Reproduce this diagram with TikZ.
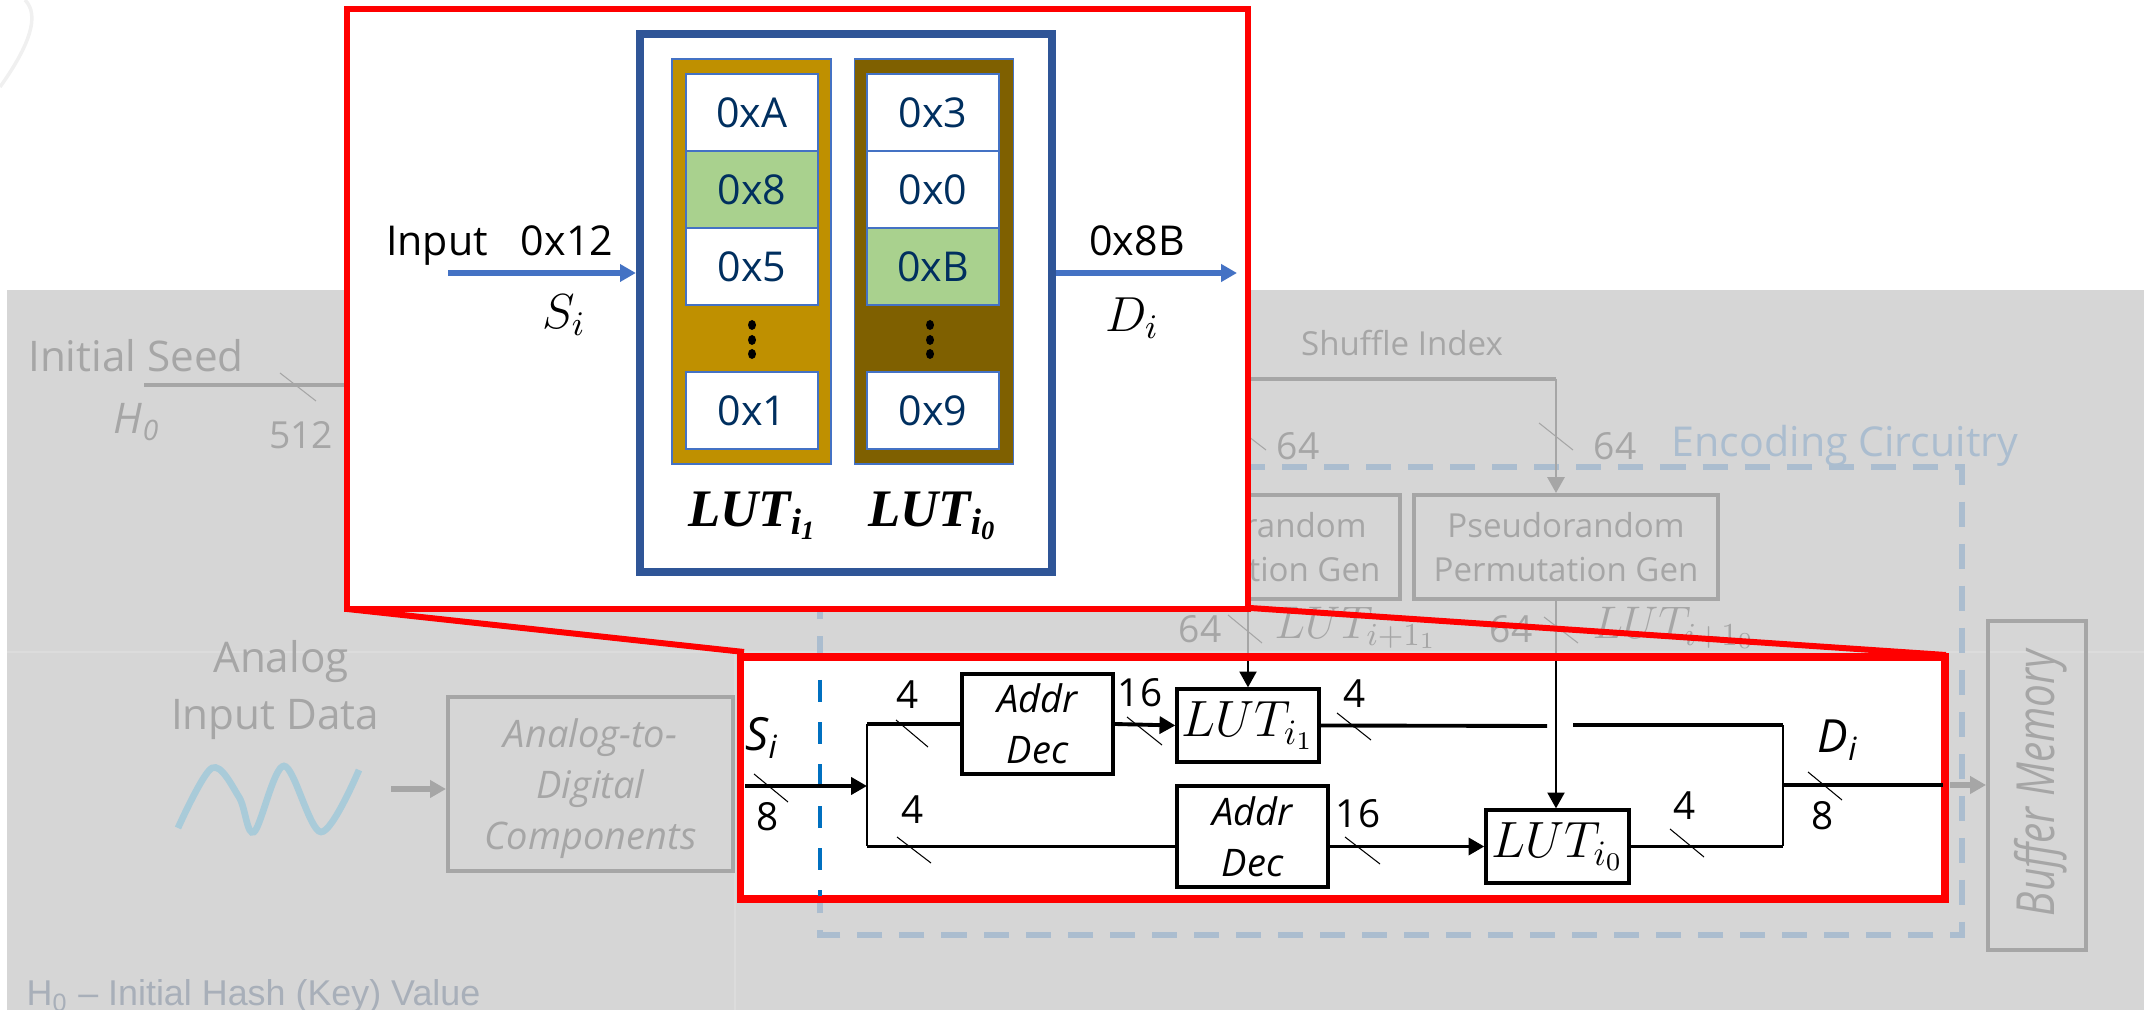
\documentclass[tikz,border=0pt]{standalone}
\usepackage{amsmath}
\usepackage{fix-cm}
\usepackage{fontspec}
\setmainfont{Open Sans}
\newfontfamily\arialfont{Liberation Sans}
\newfontfamily\lutserif{Liberation Serif}
\newcommand\lutb[1]{\text{\lutserif\bfseries\itshape #1}}
\usetikzlibrary{arrows.meta}

\definecolor{bggray}{HTML}{D6D6D6}
\definecolor{seamgray}{HTML}{DCDCDC}
\definecolor{fadegray}{HTML}{A6A6A6}
\definecolor{fadeblue}{HTML}{ABBDCF}
\definecolor{wavecol}{HTML}{A9CBD9}
\definecolor{keycol}{HTML}{A8AFB9}
\definecolor{zoomred}{HTML}{FF0000}
\definecolor{navy}{HTML}{2F5597}
\definecolor{flowblue}{HTML}{4472C4}
\definecolor{cutblue}{HTML}{0070C0}
\definecolor{cellink}{HTML}{002F5F}
\definecolor{gold}{HTML}{BF9000}
\definecolor{bronze}{HTML}{7F6000}
\definecolor{hitgreen}{HTML}{A9D18E}

\tikzset{
    fs/.style={font=\fontsize{#1}{#1}\selectfont},
    label/.style={inner sep=0pt, text=black, fs=11},
    faded/.style={inner sep=0pt, text=fadegray, fs=10.6},
    fadebox/.style={draw=fadegray, line width=1.1pt, inner sep=0pt, align=center, text=fadegray},
    blockbox/.style={draw=black, line width=0.9pt, fill=white, inner sep=0pt, align=center},
    lutcell/.style={draw=flowblue, line width=0.6pt, fill=white, text=cellink, inner sep=0pt,
        minimum width=1.32cm, minimum height=0.77cm, fs=11.7},
    lutcol/.style={draw=flowblue, line width=0.5pt, inner sep=0pt, minimum width=1.59cm, minimum height=4.05cm},
    busmark/.style={black, line width=0.3pt},
    fademark/.style={fadegray, line width=0.3pt},
    wire/.style={black, line width=1.1pt},
    fadewire/.style={fadegray, line width=0.8pt},
    zoomline/.style={zoomred, line width=1.7pt}
}

\begin{document}
\begin{tikzpicture}[x=0.01cm, y=-0.01cm, >={Stealth[inset=0pt,length=4.5pt,width=4.8pt]}]
    \useasboundingbox (0,0) rectangle (2144,1010);

    % gray background
    \fill[bggray] (7,290) rectangle (2144,1010);
    \draw[seamgray, line width=0.3pt] (7,652) -- (2144,652);
    \draw[seamgray, line width=0.3pt] (735,652) -- (735,1010);
    \draw[white!94!black, line width=1pt] (25,0) .. controls (40,15) and (30,45) .. (0,87);

    % initial seed
    \node[faded, anchor=base, fs=12] (seedtxt) at (136,372) {Initial Seed};
    \node[faded, fs=12] (hzero) at (137,422) {\textit{H}\textsubscript{\textit{0}}};
    \node[faded] (seedw) at (301,435) {512};
    \coordinate (seedstart) at (144,385);
    \draw[fadegray, line width=1.2pt] (seedstart) -- (350,385);
    \draw[fademark] (280,373) -- (316,401);

    % shuffle index
    \node[faded, anchor=base, fs=9.4] (shuffle) at (1402,356) {Shuffle Index};
    \node[faded] (wone) at (1298,446) {64};
    \node[faded] (wtwo) at (1615,446) {64};
    \node[faded, anchor=base, text=fadeblue, fs=11.7] (enctxt) at (1845,457) {Encoding Circuitry};

    % encoding circuitry outline
    \draw[fadeblue, line width=1.5pt, dash pattern=on 0.25cm off 0.17cm] (820,467) -- (1962,467) -- (1962,935) -- (820,935) -- cycle;

    % permutation generators
    \node[fadebox, minimum width=3.03cm, minimum height=1.04cm, fs=9.4] (permone) at (1248,547) {Pseudorandom\\[3pt]Permutation Gen};
    \node[fadebox, minimum width=3.03cm, minimum height=1.04cm, fs=9.4] (permtwo) at (1566,547) {Pseudorandom\\[3pt]Permutation Gen};
    \coordinate (shufflecorner) at (1556,379);
    \draw[fadegray, line width=1.2pt] (1200,379) -- (shufflecorner);
    \draw[fadewire, ->] (shufflecorner) -- (shufflecorner |- permtwo.north);
    \draw[fadewire] (1248,379) -- (1248,495);
    \draw[fademark] (1231,423) -- (1266,450);
    \draw[fademark] (1539,423) -- (1573,450);

    % next LUT labels
    \node[faded, fs=13, anchor=west] (nextone) at (1274,628) {$LUT_{i+1_1}$};
    \node[faded, fs=13, anchor=west] (nexttwo) at (1592,628) {$LUT_{i+1_0}$};
    \node[faded] (wthree) at (1200,629) {64};
    \node[faded] (wfour) at (1511,629) {64};
    \draw[fadewire] (permone.south) -- (1248,660);
    \draw[fadewire] (1556,599) -- (1556,660);
    \draw[fademark] (1228,615) -- (1262,643);
    \draw[fademark] (1544,617) -- (1578,643);

    % analog input
    \node[faded, fs=12] (analog) at (281,662) {Analog};
    \node[faded, fs=12] (inputdata) at (275,720) {Input Data};
    \draw[wavecol, line width=1.9pt, smooth, tension=0.55] plot coordinates {(178,828) (212,768) (239,797) (254,832) (284,766) (321,832) (359,770)};
    \node[fadebox, minimum width=2.85cm, minimum height=1.74cm, font=\fontsize{10.8}{14.5}\selectfont\itshape] (adc) at (590.5,784) {\rule{0pt}{11pt}Analog-to-\\Digital\\Components};
    \coordinate (wavearrow) at (391,789);
    \draw[fadegray, line width=1.5pt, ->] (wavearrow) -- (wavearrow -| adc.west);

    % buffer memory
    \node[fadebox, minimum width=0.98cm, minimum height=3.29cm] (bufmem) at (2037,785.5) {};
    \node[faded, rotate=90, font=\fontsize{11.5}{11.5}\selectfont\itshape] (buftxt) at (2041,783) {\scalebox{1}[1.3]{Buffer Memory}};
    \coordinate (bufin) at (1950,785);
    \draw[fadegray, line width=1.5pt, ->] (bufin) -- (bufin -| bufmem.west);

    % key note
    \node[inner sep=0pt, text=keycol, anchor=base west, fs=10.2] (keynote) at (26,1006) {\arialfont H\textsubscript{0} – Initial Hash (Key) Value};

    % zoom lines
    \coordinate (zoomleft) at (347,609);
    \coordinate (zoomright) at (1250,608);
    \draw[zoomline] (zoomleft) -- (744,652);
    \draw[zoomline] (zoomright) -- (1946,655);

    % lower zoom frame
    \draw[zoomline, line width=2pt, fill=white] (740.5,657) rectangle (1945,899);
    \draw[cutblue, line width=1.4pt, dash pattern=on 0.22cm off 0.20cm] (820,680) -- (820,896);

    % address decoders and LUT blocks
    \node[blockbox, minimum width=1.51cm, minimum height=1cm, font=\fontsize{10.8}{14.5}\selectfont\itshape] (addrone) at (1037.5,724) {Addr\\Dec};
    \node[blockbox, minimum width=1.51cm, minimum height=1.01cm, font=\fontsize{10.8}{14.5}\selectfont\itshape] (addrtwo) at (1252.5,836.5) {Addr\\Dec};
    \node[blockbox, minimum width=1.42cm, minimum height=0.73cm, fs=14.5] (lutone) at (1248,725.5) {$LUT_{i_1}$};
    \node[blockbox, minimum width=1.43cm, minimum height=0.73cm, fs=14.5] (luttwo) at (1557.5,846.5) {$LUT_{i_0}$};

    % wires
    \coordinate (split) at (867,786);
    \coordinate (inS) at (745,786);
    \coordinate (lowbus) at (867,846.5);
    \coordinate (joint) at (1783,785);
    \coordinate (outD) at (1943,785);
    \coordinate (gapa) at (1547,726);
    \coordinate (gapb) at (1573,725);
    \coordinate (feedone) at (1248,661);
    \coordinate (feedtwo) at (1556,661);
    \draw[wire, ->] (inS) -- (split);
    \draw[wire] (split |- addrone.west) -- (addrone.west);
    \draw[wire] (lowbus) -- (lowbus -| addrtwo.west);
    \draw[black, line width=0.8pt] (split |- addrone.west) -- (lowbus);
    \draw[wire, ->] (addrone.east) -- (lutone.west);
    \draw[wire, ->] (lowbus -| addrtwo.east) -- (luttwo.west);
    \draw[wire] (lutone.east) -- (gapa);
    \draw[wire] (gapb) -- (joint |- gapb);
    \draw[wire] (luttwo.east) -- (joint |- luttwo.east);
    \draw[black, line width=0.8pt] (joint |- gapb) -- (joint |- luttwo.east);
    \draw[wire] (joint) -- (outD);
    \draw[black, line width=0.7pt, ->] (feedone) -- (feedone |- lutone.north);
    \draw[black, line width=0.7pt, ->] (feedtwo) -- (feedtwo |- luttwo.north);

    % bus marks and widths
    \draw[busmark] (754,774) -- (788,802);
    \draw[busmark] (896,720) -- (928,747);
    \draw[busmark] (897,837) -- (931,863);
    \draw[busmark] (1127,717) -- (1162,745);
    \draw[busmark] (1337,713) -- (1371,740);
    \draw[busmark] (1345,837) -- (1380,864);
    \draw[busmark] (1670,829) -- (1704,857);
    \draw[busmark] (1808,772) -- (1842,800);
    \node[label, fs=13] (sigS) at (762,738) {\itshape S\textsubscript{i}};
    \node[label] (weight) at (768,817) {8};
    \node[label] (wa) at (908,695) {4};
    \node[label] (wb) at (913,810) {4};
    \node[label] (wc) at (1140,693) {16};
    \node[label] (wd) at (1355,694) {4};
    \node[label] (we) at (1358,814) {16};
    \node[label] (wf) at (1685,806) {4};
    \node[label, fs=13] (sigD) at (1838,740) {\itshape D\textsubscript{i}};
    \node[label] (wg) at (1823,816) {8};

    % upper zoom frame
    \draw[zoomline, line width=1.7pt, fill=white] (347,9) rectangle (1248,609);
    \node[draw=navy, line width=2.3pt, inner sep=0pt, minimum width=4.12cm, minimum height=5.38cm] (table) at (846,303) {};

    % LUT columns
    \node[lutcol, fill=gold] (colone) at (751.5,261.5) {};
    \node[lutcol, fill=bronze] (coltwo) at (934,261.5) {};
    \node[lutcell] (ca) at (752,112.5) {0xA};
    \node[lutcell, fill=hitgreen] (cb) at (752,189.5) {0x8};
    \node[lutcell] (cc) at (752,266.5) {0x5};
    \node[lutcell] (cd) at (752,410.5) {0x1};
    \node[lutcell] (ce) at (933,112.5) {0x3};
    \node[lutcell] (cf) at (933,189.5) {0x0};
    \node[lutcell, fill=hitgreen] (cg) at (933,266.5) {0xB};
    \node[lutcell] (ch) at (933,410.5) {0x9};
    \foreach \y in {325,340,354} {
        \fill[black] (752,\y) ellipse (4 and 5);
        \fill[black] (930,\y) ellipse (4 and 5);
    }
    \node[inner sep=0pt, fs=15] (headone) at (753,516) {$\lutb{LUT}_{\lutb{i}_{\lutb{1}}}$};
    \node[inner sep=0pt, fs=15] (headtwo) at (933,516) {$\lutb{LUT}_{\lutb{i}_{\lutb{0}}}$};

    % input and output
    \coordinate (instart) at (448,273);
    \coordinate (outend) at (1237,273);
    \draw[flowblue, line width=1.5pt, ->] (instart) -- (instart -| table.west);
    \draw[flowblue, line width=1.5pt, ->] (outend -| table.east) -- (outend);
    \node[label, anchor=base, fs=11.7] (inputtxt) at (437,256) {Input};
    \node[label, anchor=base, fs=11.7] (inval) at (567,256) {0x12};
    \node[label, anchor=base, fs=11.7] (outval) at (1137,256) {0x8B};
    \node[label, fs=14] (si) at (564,315) {$S_i$};
    \node[label, fs=14] (di) at (1132,318) {$D_i$};
\end{tikzpicture}
\end{document}
